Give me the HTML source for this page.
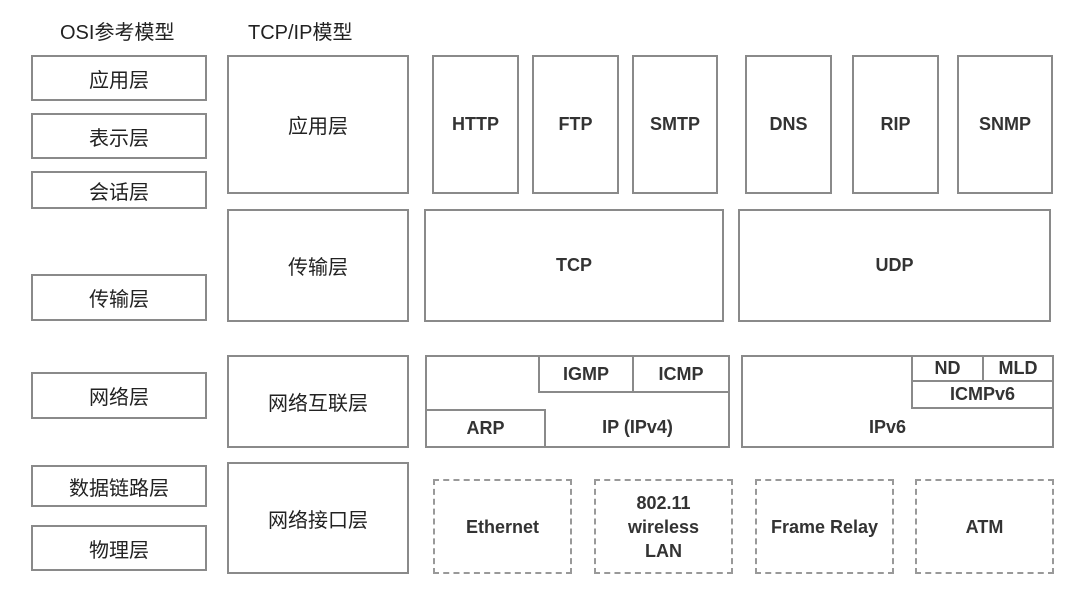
<!DOCTYPE html>
<html><head><meta charset="utf-8"><style>
body{margin:0;width:1076px;height:590px;background:#fff;overflow:hidden;position:relative;font-family:"Liberation Sans","Noto Sans CJK SC",sans-serif;color:#222}
.b{position:absolute;box-sizing:border-box;border:2px solid #8a8a8a;display:flex;align-items:center;justify-content:center;text-align:center;font-size:18px;font-weight:bold;color:#333;background:#fff}
.c{font-size:20px;font-weight:normal;color:#222}
.d{border:2px dashed #999;line-height:24px}
.h{position:absolute;font-size:20px;top:16px}
</style></head><body>
<div class="h" style="left:60px">OSI参考模型</div>
<div class="h" style="left:248px">TCP/IP模型</div>

<div class="b c" style="left:31px;top:55px;width:176px;height:46px">应用层</div>
<div class="b c" style="left:31px;top:113px;width:176px;height:46px">表示层</div>
<div class="b c" style="left:31px;top:171px;width:176px;height:38px">会话层</div>
<div class="b c" style="left:31px;top:274px;width:176px;height:47px">传输层</div>
<div class="b c" style="left:31px;top:372px;width:176px;height:47px">网络层</div>
<div class="b c" style="left:31px;top:465px;width:176px;height:42px">数据链路层</div>
<div class="b c" style="left:31px;top:525px;width:176px;height:46px">物理层</div>

<div class="b c" style="left:227px;top:55px;width:182px;height:139px">应用层</div>
<div class="b c" style="left:227px;top:209px;width:182px;height:113px">传输层</div>
<div class="b c" style="left:227px;top:355px;width:182px;height:93px">网络互联层</div>
<div class="b c" style="left:227px;top:462px;width:182px;height:112px">网络接口层</div>

<div class="b" style="left:432px;top:55px;width:87px;height:139px">HTTP</div>
<div class="b" style="left:532px;top:55px;width:87px;height:139px">FTP</div>
<div class="b" style="left:632px;top:55px;width:86px;height:139px">SMTP</div>
<div class="b" style="left:745px;top:55px;width:87px;height:139px">DNS</div>
<div class="b" style="left:852px;top:55px;width:87px;height:139px">RIP</div>
<div class="b" style="left:957px;top:55px;width:96px;height:139px">SNMP</div>

<div class="b" style="left:424px;top:209px;width:300px;height:113px">TCP</div>
<div class="b" style="left:738px;top:209px;width:313px;height:113px">UDP</div>

<div class="b" style="left:425px;top:355px;width:305px;height:93px;align-items:flex-end;padding:0 0 8px 120px">IP (IPv4)</div>
<div class="b" style="left:538px;top:355px;width:96px;height:38px">IGMP</div>
<div class="b" style="left:632px;top:355px;width:98px;height:38px">ICMP</div>
<div class="b" style="left:425px;top:409px;width:121px;height:39px">ARP</div>

<div class="b" style="left:741px;top:355px;width:313px;height:93px;align-items:flex-end;padding:0 20px 8px 0">IPv6</div>
<div class="b" style="left:911px;top:355px;width:73px;height:27px">ND</div>
<div class="b" style="left:982px;top:355px;width:72px;height:27px">MLD</div>
<div class="b" style="left:911px;top:380px;width:143px;height:29px">ICMPv6</div>

<div class="b d" style="left:433px;top:479px;width:139px;height:95px">Ethernet</div>
<div class="b d" style="left:594px;top:479px;width:139px;height:95px">802.11<br>wireless<br>LAN</div>
<div class="b d" style="left:755px;top:479px;width:139px;height:95px">Frame Relay</div>
<div class="b d" style="left:915px;top:479px;width:139px;height:95px">ATM</div>
</body></html>
